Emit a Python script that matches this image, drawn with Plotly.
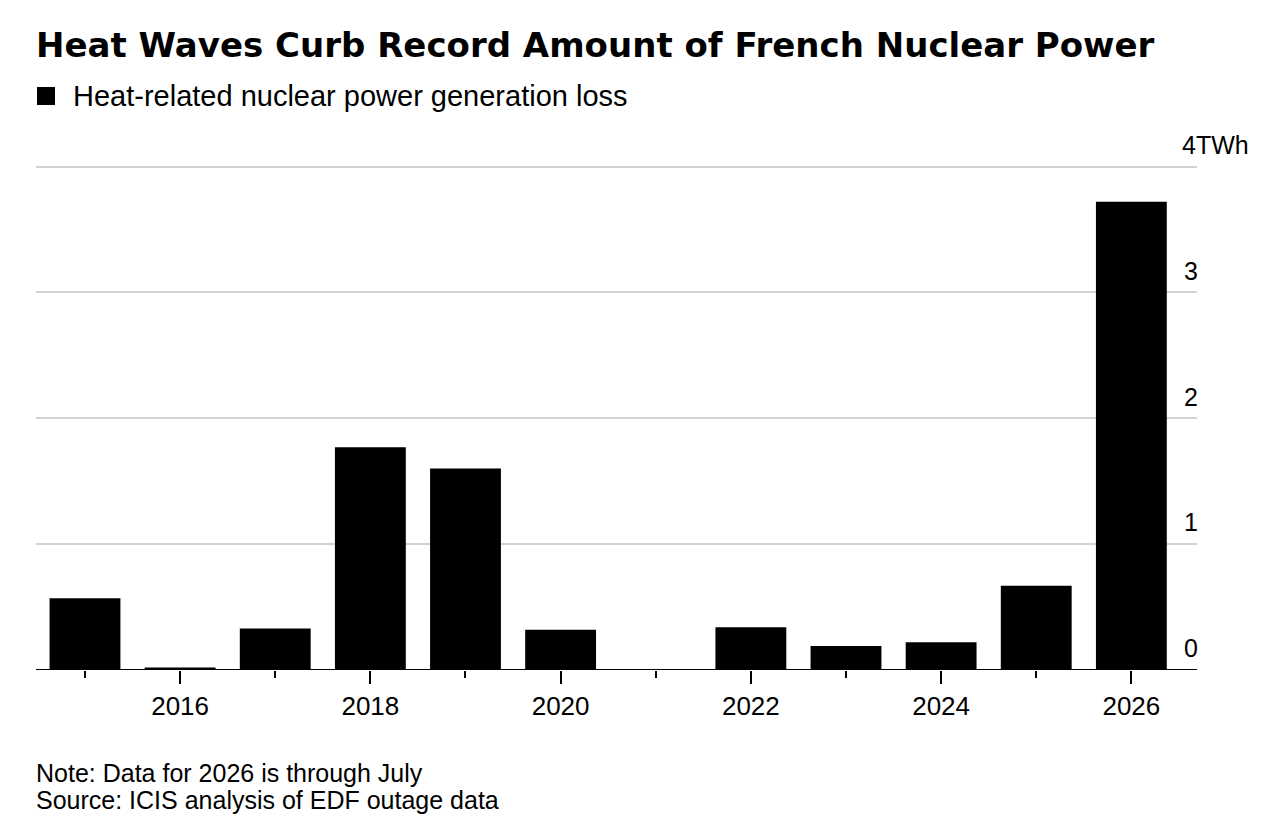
import plotly.graph_objects as go

# Datos (TWh)
years = [2015, 2016, 2017, 2018, 2019, 2020, 2021, 2022, 2023, 2024, 2025, 2026]
loss_twh = [0.57, 0.02, 0.33, 1.77, 1.60, 0.32, 0.0, 0.34, 0.19, 0.22, 0.67, 3.72]
ytick_vals = [0, 1, 2, 3, 4]
ytick_text = ["0", "1", "2", "3", ""]   # el 4 va aparte (plotly esconde la etiqueta de arriba)
top_label = "4TWh"

title = "Heat Waves Curb Record Amount of French Nuclear Power"
legend_label = "Heat-related nuclear power generation loss"
note = "Note: Data for 2026 is through July"
source = "Source: ICIS analysis of EDF outage data"

FONT = "Liberation Sans"

# margenes (la pagina mete ~8px de borde)
L, R, T, B = 28, 91, 156, 170
W = 1280 - L - R
H = 832 - T - B
X0 = 8 + L          # x de la pagina donde empieza el area
Y0 = 8 + T + H      # y de la pagina donde esta el cero


def px(x):
    return (x - X0) / W


def py(y):
    return (Y0 - y) / H


fig = go.Figure()
fig.add_trace(go.Bar(x=years, y=loss_twh, width=0.745,
                     marker=dict(color="#000000", line=dict(width=0)),
                     name=legend_label, showlegend=False))

fig.update_layout(
    width=1280, height=832,
    margin=dict(l=L, r=R, t=T, b=B),
    paper_bgcolor="white", plot_bgcolor="white",
    font=dict(family=FONT, color="#000000"),
)

# Eje X: etiquetas en años pares, marcas pequeñas en los impares
fig.update_xaxes(
    range=[2014.485, 2026.69],
    tickmode="linear", tick0=2016, dtick=2,
    ticks="outside", ticklen=13, tickwidth=2, tickcolor="#000000",
    tickfont=dict(size=26, family=FONT, color="#000000"),
    showgrid=False, zeroline=False, showline=False,
    minor=dict(dtick=1, tick0=2015, ticks="outside", ticklen=7, tickwidth=2,
               tickcolor="#000000", showgrid=False),
)

# Eje Y a la derecha, etiquetas encima de las lineas
fig.update_yaxes(
    range=[0, 4.02], side="right",
    tickmode="array", tickvals=ytick_vals, ticktext=ytick_text,
    ticklabelposition="inside top", ticks="", ticklabelshift=-4,
    ticklabelstandoff=-4,
    tickfont=dict(size=25, family=FONT, color="#000000"),
    showgrid=True, gridcolor="#d2d2d2", gridwidth=1.5,
    zeroline=False, showline=False,
)

# etiqueta de arriba con la unidad (sale por la derecha del area)
fig.add_annotation(text=top_label, xref="paper", yref="y", x=px(1180), y=4,
                   xanchor="left", yanchor="bottom", yshift=6,
                   showarrow=False, font=dict(size=25, family=FONT))

# linea base negra
fig.add_shape(type="line", xref="paper", yref="y", x0=0, x1=1, y0=0, y1=0,
              line=dict(color="#000000", width=2))

# Titulo
fig.add_annotation(text="<b>" + title + "</b>", xref="paper", yref="paper",
                   x=px(34), y=py(45), xanchor="left", yanchor="middle",
                   showarrow=False, font=dict(size=34, family="DejaVu Sans"))

# Leyenda a mano
fig.add_shape(type="rect", xref="paper", yref="paper",
              x0=px(37), x1=px(55), y0=py(105), y1=py(87),
              fillcolor="#000000", line=dict(width=0))
fig.add_annotation(text=legend_label, xref="paper", yref="paper",
                   x=px(71), y=py(96), xanchor="left", yanchor="middle",
                   showarrow=False, font=dict(size=29, family=FONT))

# Notas
fig.add_annotation(text=note, xref="paper", yref="paper",
                   x=px(34), y=py(773), xanchor="left", yanchor="middle",
                   showarrow=False, font=dict(size=25, family=FONT))
fig.add_annotation(text=source, xref="paper", yref="paper",
                   x=px(34), y=py(800), xanchor="left", yanchor="middle",
                   showarrow=False, font=dict(size=25, family=FONT))

fig.write_html("out.html")
